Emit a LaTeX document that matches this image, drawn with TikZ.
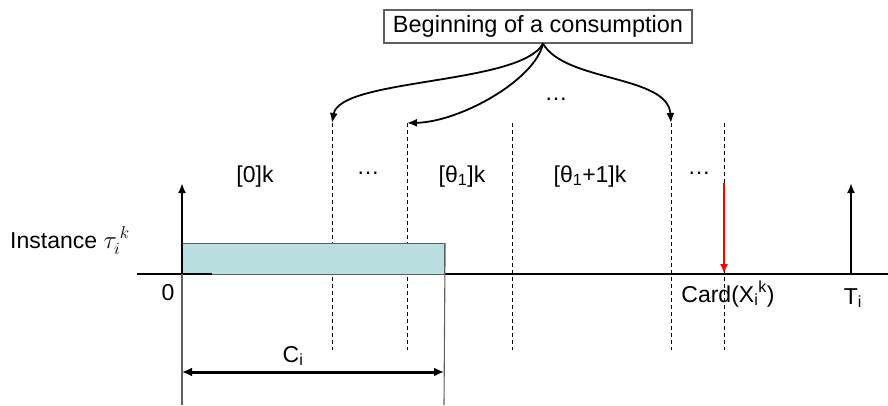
\documentclass[tikz,border=0pt]{standalone}
\usepackage{fontspec}
\setmainfont{Liberation Sans}
\usetikzlibrary{arrows.meta}
\definecolor{barfill}{RGB}{184,222,224}
\definecolor{edgegray}{RGB}{95,95,95}
\begin{document}
\begin{tikzpicture}[x=1pt,y=-1pt,
  lbl/.style={font=\fontsize{23}{27}\selectfont, inner sep=0pt, anchor=base},
  axisline/.style={line width=2.4pt},
  dashline/.style={line width=0.9pt, dash pattern=on 4pt off 3pt},
  guide/.style={line width=1.1pt, draw=edgegray},
  uparrow/.style={line width=2.3pt, -{Latex[length=10pt,width=8pt]}},
  curvearrow/.style={line width=1.8pt, -{Latex[length=10pt,width=8pt]}},
  dimarrow/.style={line width=3pt, {Latex[length=10pt,width=9pt]}-{Latex[length=10pt,width=9pt]}}
]
\useasboundingbox (0,0) rectangle (888,405);

% title box
\node[draw=edgegray, line width=1.3pt, minimum width=308pt, minimum height=33pt,
      inner sep=0pt, font=\fontsize{23.5}{27}\selectfont] (box) at (538,26.5) {Beginning of a consumption};
\coordinate (src) at ([xshift=5pt]box.south);

% dashed boundaries
\foreach \n/\x in {d1/332, d2/407, d3/512, d4/671, d5/724}{
  \coordinate (\n t) at (\x,123);
  \coordinate (\n b) at (\x,350);
  \draw[dashline] (\n t) -- (\n b);
}

% curved arrows
\draw[curvearrow] (src) .. controls (520,85) and (340,78) .. (d1t);
\draw[curvearrow] (src) .. controls (535,80) and (460,122) .. (d2t);
\draw[curvearrow] (src) .. controls (565,82) and (668,75) .. (d4t);
\node[lbl] (dotsup) at (556,100) {…};

% axis
\coordinate (axL) at (137,274);
\coordinate (axR) at (888,274);
\draw[axisline] (axL) -- (axR);

% execution bar
\node[draw=edgegray, line width=1.1pt, fill=barfill, minimum width=262pt, minimum height=31pt,
      inner sep=0pt, anchor=north west] (bar) at (182,243) {};
\coordinate (axS) at (212,274);
\draw[axisline] (axL) -- (axS);

% guides for C_i
\coordinate (g1) at (182,405);
\coordinate (g2) at (444,405);
\draw[guide] (bar.north west) -- (g1);
\draw[guide] (bar.north east) -- (g2);
\coordinate (c1) at (182,372);
\coordinate (c2) at (444,372);
\draw[dimarrow] (c1) -- (c2);
\node[lbl] (ci) at (293,362) {C\textsubscript{i}};

% vertical arrows
\coordinate (a0b) at (182,274);
\coordinate (a0t) at (182,183);
\draw[uparrow] (a0b) -- (a0t);
\coordinate (aTb) at (851,274);
\coordinate (aTt) at (851,183);
\draw[uparrow] (aTb) -- (aTt);
\coordinate (rt) at (724,183);
\coordinate (rb) at (724,274);
\draw[uparrow, draw=red, -{Latex[length=10pt,width=8pt,fill=red]}] (rt) -- (rb);

% interval labels
\node[lbl] (l0) at (255,182) {[0]k};
\node[lbl] (l1) at (368,174) {…};
\node[lbl] (l2) at (462,182) {[θ\textsubscript{1}]k};
\node[lbl] (l3) at (590,182) {[θ\textsubscript{1}+1]k};
\node[lbl] (l4) at (699,174) {…};

% instance label
\node[lbl, anchor=base west] (inst) at (10,248) {Instance $\tau_{i}^{\,k}$};

% axis labels
\node[lbl] (zero) at (168,300) {0};
\node[lbl] (card) at (728,302) {Card(X\textsubscript{i}\textsuperscript{k})};
\node[lbl] (ti) at (853,304) {T\textsubscript{i}};
\end{tikzpicture}
\end{document}
